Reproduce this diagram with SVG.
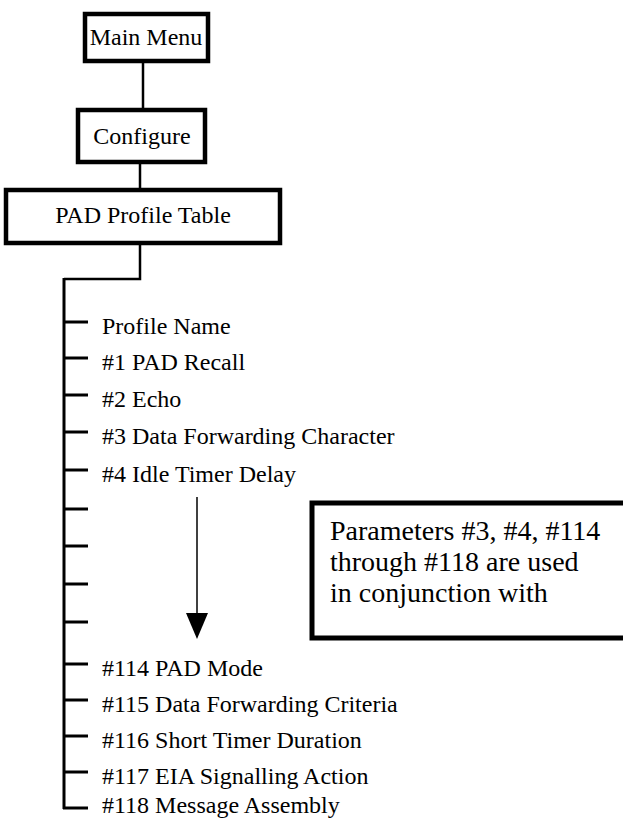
<svg xmlns="http://www.w3.org/2000/svg" width="623" height="819" viewBox="0 0 623 819">
<style>
.box{fill:#fff;stroke:#000;stroke-width:4.5}
.t{font-family:"Liberation Serif","Times New Roman",serif;font-size:24px;fill:#000}
.ct{font-family:"Liberation Serif","Times New Roman",serif;font-size:28px;fill:#000}
.ln{stroke:#000;stroke-width:2.5;fill:none}
.tk{stroke:#000;stroke-width:3}
</style>
<rect width="623" height="819" fill="#fff"/>
<g id="connectors">
<line class="ln" x1="143" y1="63" x2="143" y2="108"/>
<line class="ln" x1="140" y1="164" x2="140" y2="188"/>
<polyline class="ln" points="140,245 140,279 64,279" />
<line x1="64" y1="278" x2="64" y2="809" stroke="#000" stroke-width="3"/>
<line class="tk" x1="63" y1="322" x2="88" y2="322"/>
<line class="tk" x1="63" y1="358" x2="88" y2="358"/>
<line class="tk" x1="63" y1="395" x2="88" y2="395"/>
<line class="tk" x1="63" y1="432" x2="88" y2="432"/>
<line class="tk" x1="63" y1="470" x2="88" y2="470"/>
<line class="tk" x1="63" y1="509" x2="88" y2="509"/>
<line class="tk" x1="63" y1="546" x2="88" y2="546"/>
<line class="tk" x1="63" y1="584" x2="88" y2="584"/>
<line class="tk" x1="63" y1="622" x2="88" y2="622"/>
<line class="tk" x1="63" y1="664" x2="88" y2="664"/>
<line class="tk" x1="63" y1="700" x2="88" y2="700"/>
<line class="tk" x1="63" y1="736" x2="88" y2="736"/>
<line class="tk" x1="63" y1="772" x2="88" y2="772"/>
<line class="tk" x1="63" y1="808" x2="88" y2="808"/>
<line x1="197" y1="497" x2="197" y2="615" stroke="#000" stroke-width="1.5"/>
<polygon points="186,613 208,613 197,639" fill="#000"/>
</g>
<g id="main-menu">
<rect class="box" x="85" y="14" width="123" height="47"/>
<text class="t" x="146" y="45" text-anchor="middle">Main Menu</text>
</g>
<g id="configure">
<rect class="box" x="78" y="110" width="127" height="52"/>
<text class="t" x="142" y="144" text-anchor="middle">Configure</text>
</g>
<g id="pad-profile-table">
<rect class="box" x="6" y="190" width="274" height="53"/>
<text class="t" x="143" y="223" text-anchor="middle">PAD Profile Table</text>
</g>
<g id="items">
<text class="t" x="102" y="334">Profile Name</text>
<text class="t" x="102" y="370">#1 PAD Recall</text>
<text class="t" x="102" y="407">#2 Echo</text>
<text class="t" x="102" y="444">#3 Data Forwarding Character</text>
<text class="t" x="102" y="482">#4 Idle Timer Delay</text>
<text class="t" x="102" y="676">#114 PAD Mode</text>
<text class="t" x="102" y="712">#115 Data Forwarding Criteria</text>
<text class="t" x="102" y="748">#116 Short Timer Duration</text>
<text class="t" x="102" y="784">#117 EIA Signalling Action</text>
<text class="t" x="102" y="813">#118 Message Assembly</text>
</g>
<g id="callout">
<path d="M626,503 L312,503 L312,638 L626,638" fill="#fff" stroke="#000" stroke-width="5"/>
<text class="ct" x="330" y="540">Parameters #3, #4, #114</text>
<text class="ct" x="330" y="571">through #118 are used</text>
<text class="ct" x="330" y="602">in conjunction with</text>
</g>
</svg>
